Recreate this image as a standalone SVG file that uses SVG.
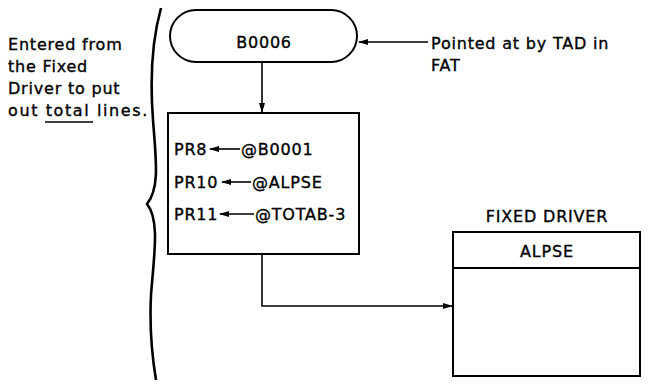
<svg xmlns="http://www.w3.org/2000/svg" width="654" height="385" viewBox="0 0 654 385">
<style>
text{font-family:"DejaVu Sans","Liberation Sans",sans-serif;font-size:16px;fill:#000;stroke:#000;stroke-width:0.35;letter-spacing:0.8px}
.box{fill:#fff;stroke:#000;stroke-width:2}
.ln{fill:none;stroke:#000;stroke-width:1.6}
.mid{text-anchor:middle}
</style>
<defs>
<marker id="ah" markerWidth="10" markerHeight="8" refX="9" refY="4" orient="auto" markerUnits="userSpaceOnUse">
<path d="M0,1 L10,4 L0,7 Z" fill="#000"/>
</marker>
</defs>
<rect width="654" height="385" fill="#fff"/>
<g id="note">
<text x="8" y="50">Entered from</text>
<text x="8" y="72">the Fixed</text>
<text x="8" y="94">Driver to put</text>
<text x="8" y="116" style="letter-spacing:1.6px">out total lines.</text>
<line x1="45" y1="122" x2="93" y2="122" stroke="#000" stroke-width="1.6"/>
</g>
<g id="brace">
<path d="M161,8 C152,40 150,80 153,120 C156,160 160,188 147,204 C160,220 154,255 151,295 C149,335 153,362 156,380" fill="none" stroke="#000" stroke-width="2.6"/>
</g>
<g id="B0006">
<rect class="box" x="170" y="10" width="187" height="52" rx="26" ry="26"/>
<text class="mid" x="264" y="48">B0006</text>
</g>
<g id="pointed">
<text x="431" y="49">Pointed at by TAD in</text>
<text x="431" y="71">FAT</text>
</g>
<g id="process">
<rect class="box" x="168" y="113" width="191" height="141"/>
<text x="174" y="155">PR8</text>
<text x="241" y="155">@B0001</text>
<text x="174" y="188">PR10</text>
<text x="252" y="188">@ALPSE</text>
<text x="174" y="220">PR11</text>
<text x="255" y="220">@TOTAB-3</text>
</g>
<g id="fixed-driver">
<text class="mid" x="547" y="222">FIXED DRIVER</text>
<rect class="box" x="453" y="232" width="187" height="144"/>
<line x1="453" y1="268" x2="640" y2="268" stroke="#000" stroke-width="2"/>
<text class="mid" x="547" y="257">ALPSE</text>
</g>
<g id="connectors">
<line class="ln" x1="428" y1="42" x2="359" y2="42" marker-end="url(#ah)"/>
<line class="ln" x1="262" y1="62" x2="262" y2="112" marker-end="url(#ah)"/>
<polyline class="ln" points="262,254 262,306 452,306" marker-end="url(#ah)"/>
<line class="ln" x1="240" y1="149" x2="210" y2="149" marker-end="url(#ah)"/>
<line class="ln" x1="251" y1="182" x2="222" y2="182" marker-end="url(#ah)"/>
<line class="ln" x1="254" y1="214" x2="220" y2="214" marker-end="url(#ah)"/>
</g>
</svg>
